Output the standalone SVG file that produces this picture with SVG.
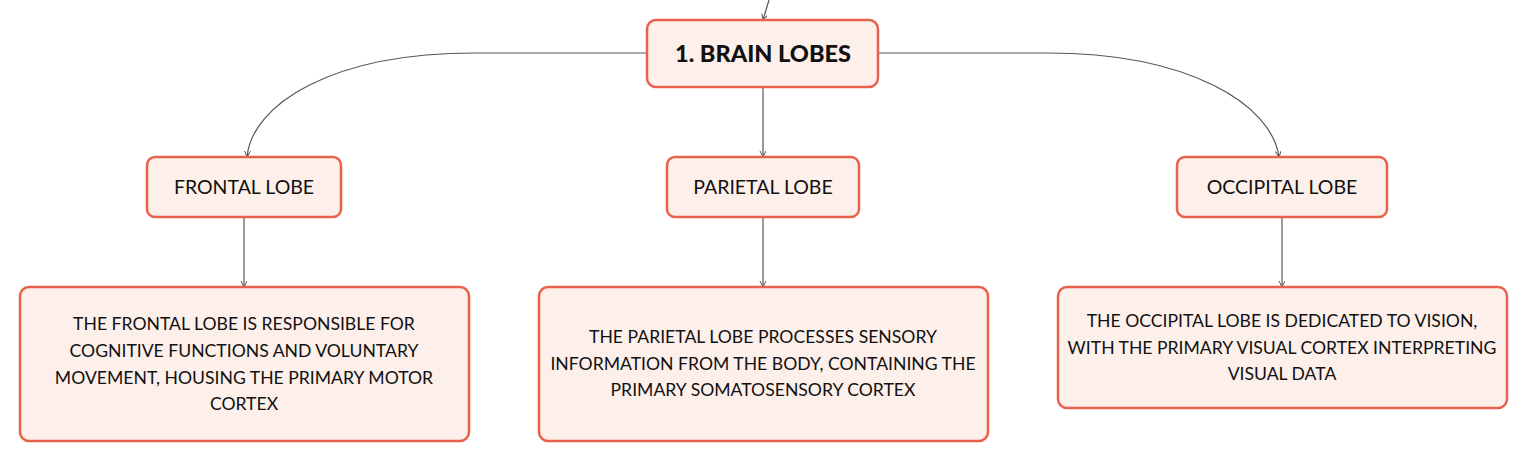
<svg xmlns="http://www.w3.org/2000/svg" width="1527" height="461" viewBox="0 0 1527 461">
<style>
.box{fill:#fdefea;stroke:#e8614d;stroke-width:2.5}
.t{font-family:Lato,"Open Sans",sans-serif;fill:#111;text-anchor:middle}
.title{font-size:23.5px;font-weight:900}
.lbl{font-size:19.5px}
.det{font-size:17.6px}
.c{fill:none;stroke:#555;stroke-width:1.2}
</style>
<defs>
<marker id="ah" markerWidth="8" markerHeight="8" refX="6" refY="3" orient="auto" markerUnits="userSpaceOnUse">
<path d="M0,0 L6,3 L0,6" fill="none" stroke="#555" stroke-width="1"/>
</marker>
</defs>
<rect width="1527" height="461" fill="#fff"/>
<g id="connectors">
<path class="c" d="M769,0 L763,20" marker-end="url(#ah)"/>
<path class="c" d="M647,53 L475,53 C330,53 252,105 247,157" marker-end="url(#ah)"/>
<path class="c" d="M879,53 L1047,53 C1190,53 1272,105 1279,157" marker-end="url(#ah)"/>
<path class="c" d="M763,87 L763,157" marker-end="url(#ah)"/>
<path class="c" d="M244,217 L244,287" marker-end="url(#ah)"/>
<path class="c" d="M763,217 L763,287" marker-end="url(#ah)"/>
<path class="c" d="M1282,217 L1282,287" marker-end="url(#ah)"/>
</g>
<g id="root">
<rect class="box" x="647" y="20" width="231" height="67" rx="9"/>
<text class="t title" x="763" y="62">1. BRAIN LOBES</text>
</g>
<g id="frontal">
<rect class="box" x="147" y="157" width="194" height="60" rx="8"/>
<text class="t lbl" x="244" y="194">FRONTAL LOBE</text>
</g>
<g id="parietal">
<rect class="box" x="667" y="157" width="192" height="60" rx="8"/>
<text class="t lbl" x="763" y="194">PARIETAL LOBE</text>
</g>
<g id="occipital">
<rect class="box" x="1177" y="157" width="210" height="60" rx="8"/>
<text class="t lbl" x="1282" y="194">OCCIPITAL LOBE</text>
</g>
<g id="frontal-detail">
<rect class="box" x="20" y="287" width="449" height="154" rx="9"/>
<text class="t det" x="244"><tspan x="244" y="330">THE FRONTAL LOBE IS RESPONSIBLE FOR</tspan><tspan x="244" y="357">COGNITIVE FUNCTIONS AND VOLUNTARY</tspan><tspan x="244" y="384">MOVEMENT, HOUSING THE PRIMARY MOTOR</tspan><tspan x="244" y="410">CORTEX</tspan></text>
</g>
<g id="parietal-detail">
<rect class="box" x="539" y="287" width="449" height="154" rx="9"/>
<text class="t det"><tspan x="763" y="343">THE PARIETAL LOBE PROCESSES SENSORY</tspan><tspan x="763" y="370">INFORMATION FROM THE BODY, CONTAINING THE</tspan><tspan x="763" y="396">PRIMARY SOMATOSENSORY CORTEX</tspan></text>
</g>
<g id="occipital-detail">
<rect class="box" x="1058" y="287" width="449" height="121" rx="9"/>
<text class="t det"><tspan x="1282" y="327">THE OCCIPITAL LOBE IS DEDICATED TO VISION,</tspan><tspan x="1282" y="354">WITH THE PRIMARY VISUAL CORTEX INTERPRETING</tspan><tspan x="1282" y="380">VISUAL DATA</tspan></text>
</g>
</svg>
